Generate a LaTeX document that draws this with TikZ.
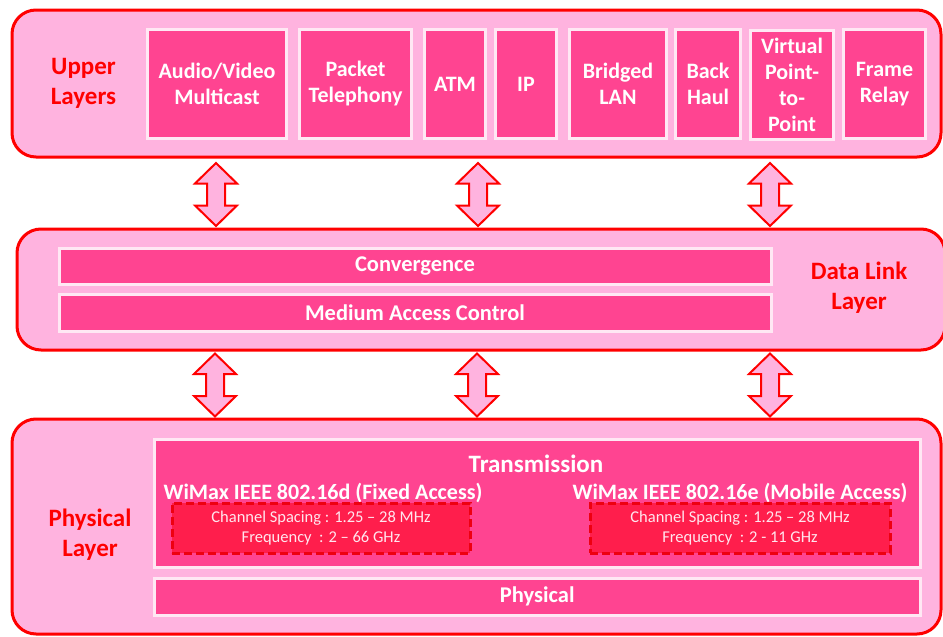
\documentclass[tikz,border=0pt]{standalone}
\usepackage{fontspec}
\setmainfont{Carlito}
\definecolor{lpink}{HTML}{FFB3DF}
\definecolor{hpink}{HTML}{FF4491}
\definecolor{dred}{HTML}{FF1E4C}
\definecolor{lred}{HTML}{FF0000}
\definecolor{ddash}{HTML}{EE0010}
\definecolor{wborder}{HTML}{FFE8F4}
\definecolor{spectxt}{HTML}{FFE6EE}
\tikzset{
  layer/.style={rectangle, draw=lred, line width=3pt, fill=lpink, rounded corners=24pt, inner sep=0pt},
  ubox/.style={rectangle, draw=wborder, line width=3pt, fill=hpink, text=white,
    font=\fontsize{22}{26}\selectfont\bfseries, align=center, inner sep=0pt, minimum height=109pt},
  bar/.style={rectangle, draw=wborder, line width=3pt, fill=hpink, text=white,
    font=\fontsize{22.5}{26}\selectfont\bfseries, inner sep=0pt},
  lbl/.style={text=lred, font=\fontsize{25}{30}\selectfont\bfseries, align=center},
  wtxt/.style={text=white, font=\fontsize{22}{26}\selectfont\bfseries},
  spec/.style={rectangle, draw=ddash, dash pattern=on 8pt off 4pt, line width=3pt, fill=dred,
    text=spectxt, font=\fontsize{16.5}{20}\selectfont, align=center, inner sep=0pt,
    minimum height=50pt},
  arrowshape/.style={draw=lred, line width=2pt, fill=lpink, line join=miter},
  dblarrow/.pic={\draw[arrowshape] (0,-31.5) -- (21,-11) -- (9,-11) -- (9,11) -- (21,11)
    -- (0,31.5) -- (-21,11) -- (-9,11) -- (-9,-11) -- (-21,-11) -- cycle;}
}
\begin{document}
\begin{tikzpicture}[x=1pt,y=-1pt]
\useasboundingbox (0,0) rectangle (943,637);
\fill[white] (0,0) rectangle (943,637);

% layers
\node[layer, minimum width=929pt, minimum height=147pt] (upper) at (476.5,83.5) {};
\node[layer, minimum width=928pt, minimum height=121pt] (dll) at (481,289.5) {};
\node[layer, minimum width=929pt, minimum height=215pt] (phy) at (476.5,526.5) {};

% upper layer
\node[lbl] (ulbl) at (83.5,83) {Upper\\Layers};
\node[ubox, minimum width=139pt] (av) at (217,84) {Audio/Video\\Multicast};
\node[ubox, minimum width=112pt] (pt) at (355.5,84) {Packet\\Telephony};
\node[ubox, minimum width=61pt] (atm) at (455,84) {ATM};
\node[ubox, minimum width=61pt] (ip) at (526,84) {IP};
\node[ubox, minimum width=97pt] (bl) at (618,84) {Bridged\\LAN};
\node[ubox, minimum width=65pt] (bh) at (708,84) {Back\\Haul};
\node[ubox, minimum width=83pt] (vp) at (792,85) {Virtual\\Point-\\to-\\Point};
\node[ubox, minimum width=82pt] (fr) at (884.5,84) {Frame\\Relay};

% arrows
\pic at (216,194.5) {dblarrow};
\pic at (478,194.5) {dblarrow};
\pic at (770,194.5) {dblarrow};
\pic at (215,385) {dblarrow};
\pic at (477,385) {dblarrow};
\pic at (770,385) {dblarrow};

% data link layer
\node[bar, minimum width=712pt, minimum height=36pt] (conv) at (415,266) {Convergence};
\node[bar, minimum width=712pt, minimum height=37pt] (mac) at (415,313) {Medium Access Control};
\node[lbl] (dlbl) at (859,288) {Data Link\\Layer};

% physical layer
\node[lbl] (plbl) at (90,535) {Physical\\Layer};
\node[bar, minimum width=765.5pt, minimum height=128pt] (trans) at (537.25,503.5) {};
\node[text=white, font=\fontsize{25}{28}\selectfont\bfseries] (ttl) at (536,464) {Transmission};
\node[wtxt] (wl) at (323,493) {WiMax IEEE 802.16d (Fixed Access)};
\node[wtxt] (wr) at (740,493) {WiMax IEEE 802.16e (Mobile Access)};
\node[spec, minimum width=298pt] (sl) at (321,528) {Channel Spacing : 1.25 -- 28 MHz\\Frequency \ : 2 -- 66 GHz};
\node[spec, minimum width=300pt] (sr) at (740,528) {Channel Spacing : 1.25 -- 28 MHz\\Frequency \ : 2 - 11 GHz};
\node[bar, minimum width=765.5pt, minimum height=37pt] (phys) at (537.25,596.5) {Physical};
\end{tikzpicture}
\end{document}
